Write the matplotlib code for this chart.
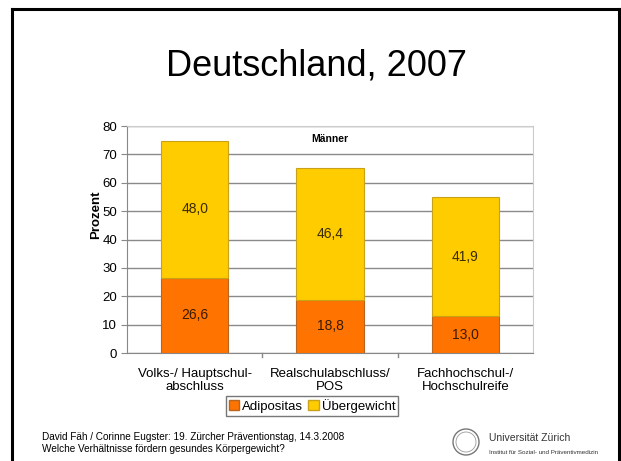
import matplotlib
matplotlib.use("Agg")
import matplotlib.pyplot as plt
from matplotlib.patches import Circle, Patch

categories = ["Volks-/ Hauptschul-\nabschluss", "Realschulabschluss/\nPOS", "Fachhochschul-/\nHochschulreife"]
adipositas = [26.6, 18.8, 13.0]
uebergewicht = [48.0, 46.4, 41.9]
yticks = [0, 10, 20, 30, 40, 50, 60, 70, 80]

W, H = 621, 461
fig = plt.figure(figsize=(W / 100, H / 100), dpi=100)
plt.rcParams['font.family'] = ['Liberation Sans', 'DejaVu Sans']

# slide border
fig.add_artist(plt.Line2D([12 / W, 12 / W], [0, 1 - 9 / H], color='black', lw=2.2, transform=fig.transFigure))
fig.add_artist(plt.Line2D([12 / W, 619 / W], [1 - 9 / H, 1 - 9 / H], color='black', lw=2.2, transform=fig.transFigure))
fig.add_artist(plt.Line2D([619 / W, 619 / W], [0, 1 - 9 / H], color='black', lw=2.2, transform=fig.transFigure))

fig.text(316 / W, 1 - 66 / H, "Deutschland, 2007", ha='center', va='center', fontsize=26)

ax = fig.add_axes([127 / W, 1 - 353 / H, (533 - 127) / W, (353 - 126) / H])
x = range(len(categories))
orange = '#FF7300'
yellow = '#FFCC00'
ax.bar(x, adipositas, width=0.5, color=orange, edgecolor='#B8661F', linewidth=0.8, zorder=3)
ax.bar(x, uebergewicht, width=0.5, bottom=adipositas, color=yellow, edgecolor='#C9A21A', linewidth=0.8, zorder=3)
for i in x:
    ax.text(i, adipositas[i] / 2, f"{adipositas[i]:.1f}".replace('.', ','), ha='center', va='center', fontsize=10, color='#3a1a00', zorder=4)
    ax.text(i, adipositas[i] + uebergewicht[i] / 2, f"{uebergewicht[i]:.1f}".replace('.', ','), ha='center', va='center', fontsize=10, color='#3a2a00', zorder=4)

ax.set_xlim(-0.5, 2.5)
ax.set_ylim(0, 80)
ax.set_yticks(yticks)
ax.set_yticklabels([str(t) for t in yticks], fontsize=9.5)
ax.yaxis.grid(True, color='#8a8a8a', linewidth=1)
ax.set_axisbelow(True)
ax.set_xticks([0, 1, 2])
ax.set_xticklabels(categories, fontsize=9.5, linespacing=1.05)
ax.tick_params(axis='x', length=0, pad=11)
ax.tick_params(axis='y', length=4, color='#888888', pad=3)
for s in ['top', 'right']:
    ax.spines[s].set_color('#cccccc')
ax.spines['left'].set_color('#888888')
ax.spines['bottom'].set_color('#888888')
for xb in [0.5, 1.5]:
    ax.plot([xb, xb], [0, -1.5], color='#888888', lw=1, clip_on=False)
ax.set_ylabel("Prozent", fontsize=9.5, fontweight='bold')
ax.yaxis.set_label_coords(-0.062, 0.61)
ax.text(1, 75.5, "Männer", ha='center', va='center', fontsize=7.5, fontweight='bold')

handles = [Patch(facecolor=orange, edgecolor='#B8661F'), Patch(facecolor=yellow, edgecolor='#C9A21A')]
fig.legend(handles, ["Adipositas", "Übergewicht"], loc='center', bbox_to_anchor=(312 / W, 1 - 406 / H),
           ncol=2, fontsize=9.5, frameon=True, fancybox=False, edgecolor='#555555',
           handlelength=0.8, handleheight=0.8, handletextpad=0.2, columnspacing=0.4,
           borderpad=0.2, borderaxespad=0)

fig.text(42 / W, 1 - 437 / H, "David Fäh / Corinne Eugster: 19. Zürcher Präventionstag, 14.3.2008", fontsize=7.2, va='center')
fig.text(42 / W, 1 - 449 / H, "Welche Verhältnisse fördern gesundes Körpergewicht?", fontsize=7.2, va='center')

cx, cy = 466, H - 442
fig.add_artist(Circle((cx, cy), 13, transform=None, fill=False, edgecolor='#777777', lw=1))
fig.add_artist(Circle((cx, cy), 10, transform=None, fill=False, edgecolor='#999999', lw=0.6))
fig.text(489 / W, 1 - 438 / H, "Universität Zürich", fontsize=7.5, va='center', color='#333333')
fig.text(489 / W, 1 - 452 / H, "Institut für Sozial- und Präventivmedizin", fontsize=4.5, va='center', color='#333333')

fig.savefig("out.png", dpi=100)
